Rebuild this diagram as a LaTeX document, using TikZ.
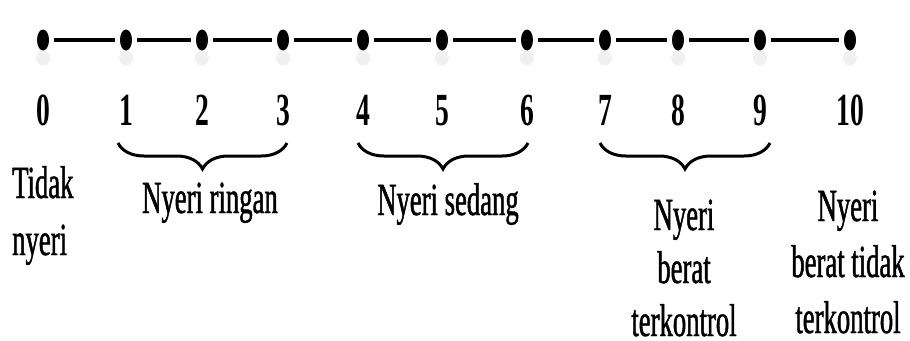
\documentclass[tikz,border=0pt]{standalone}
\usepackage{fontspec}
\usetikzlibrary{decorations.pathreplacing,shapes.geometric}
% Narrow serif faces for the scale labels
\newfontfamily\labelfont[FakeStretch=0.58,FakeBold=1]{Liberation Serif}
\newfontfamily\numfont[FakeStretch=0.6]{Liberation Serif}
\begin{document}
\begin{tikzpicture}[x=1pt,y=-1pt,
  dot/.style={ellipse,fill=black,inner sep=0pt,minimum width=12pt,minimum height=21pt},
  halo/.style={ellipse,fill=black!6,inner sep=0pt,minimum width=14pt,minimum height=15pt},
  seg/.style={line width=3.2pt,shorten <=5pt,shorten >=5pt},
  num/.style={anchor=base,inner sep=0pt,font=\numfont\bfseries\fontsize{46}{56}\selectfont},
  lbl/.style={anchor=base,inner sep=0pt,align=center,font=\labelfont\fontsize{46}{56}\selectfont},
  grp/.style={line width=3pt,decorate,decoration={brace,amplitude=26pt}}]
\useasboundingbox (0,0) rectangle (910,340);
% points of the scale
\foreach \n/\x in {0/43,1/126,2/202,3/283,4/363,5/442,6/527,7/605,8/678,9/760,10/850}{
  \node[halo] at (\x,58) {};
  \node[dot] (d\n) at (\x,40) {};
  \node[num] (n\n) at (\x,125) {\n};
}
% connecting line
\foreach \a/\b in {0/1,1/2,2/3,3/4,4/5,5/6,6/7,7/8,8/9,9/10}{
  \draw[seg] (d\a) -- (d\b);
}
% group braces
\coordinate (b1s) at (118,143); \coordinate (b1e) at (287,143);
\coordinate (b2s) at (358,143); \coordinate (b2e) at (528,143);
\coordinate (b3s) at (600,143); \coordinate (b3e) at (770,143);
\draw[grp] (b1e) -- (b1s);
\draw[grp] (b2e) -- (b2s);
\draw[grp] (b3e) -- (b3s);
% category labels (a multi-line node sits on the baseline of its last line)
\node[lbl,anchor=base west,align=left,font=\labelfont\fontsize{46}{57}\selectfont] (l0) at (12,255) {Tidak\\nyeri};
\node[lbl] (l1) at (210,213) {Nyeri ringan};
\node[lbl] (l2) at (448,215) {Nyeri sedang};
\node[lbl,text depth=0pt,font=\labelfont\fontsize{46}{53}\selectfont] (l3) at (684,336) {Nyeri\\berat\\terkontrol};
\node[lbl,text depth=0pt,font=\labelfont\fontsize{46}{56}\selectfont] (l4) at (848,333) {Nyeri\\berat tidak\\terkontrol};
\end{tikzpicture}
\end{document}
